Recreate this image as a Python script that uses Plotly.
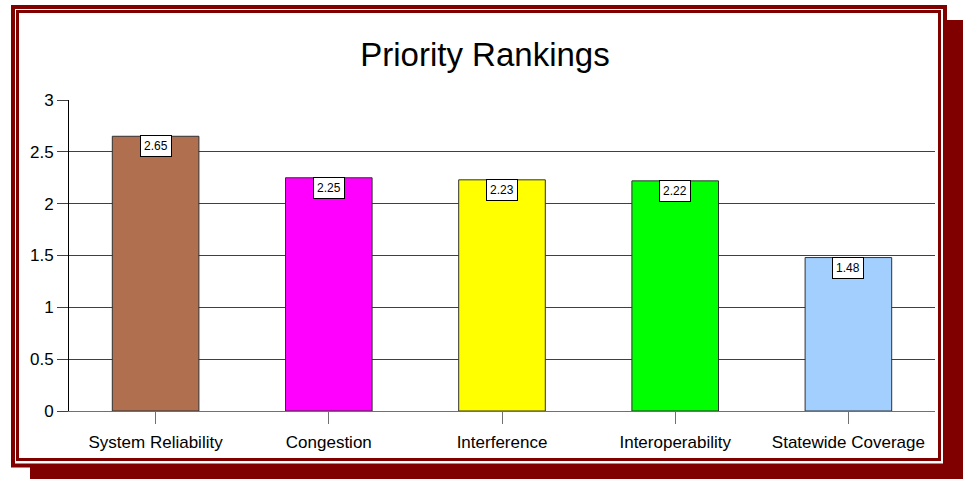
import plotly.graph_objects as go

categories = ["System Reliability", "Congestion", "Interference", "Interoperability", "Statewide Coverage"]
values = [2.65, 2.25, 2.23, 2.22, 1.48]
colors = ["#B07050", "#FF00FF", "#FFFF00", "#00FF00", "#A3CFFF"]
value_labels = ["2.65", "2.25", "2.23", "2.22", "1.48"]
y_ticks = [0, 0.5, 1, 1.5, 2, 2.5, 3]
y_tick_text = ["0", "0.5", "1", "1.5", "2", "2.5", "3"]

W, H = 963, 479
L, R, T, B = 69, 28, 100, 68
PW, PH = W - L - R, H - T - B

def px(x):
    return (x - L) / PW

def py(y):
    return (H - B - y) / PH

DARK_RED = "#800000"
FONT = "Liberation Sans, Arial"

fig = go.Figure()
fig.add_trace(go.Bar(
    x=categories, y=values,
    marker=dict(color=colors, line=dict(color="#303030", width=1)),
    width=0.5, hoverinfo="x+y",
))

for c, v, t in zip(categories, values, value_labels):
    fig.add_annotation(x=c, y=v, text=t, showarrow=False, yanchor="top", yshift=1,
                       font=dict(family=FONT, size=12, color="black"),
                       bgcolor="white", bordercolor="black", borderwidth=1, borderpad=3)

shapes = [
    # drop shadow
    dict(type="rect", xref="paper", yref="paper", x0=px(30), x1=px(963), y0=py(20), y1=py(479),
         fillcolor=DARK_RED, line=dict(width=0), layer="below"),
    # outer frame
    dict(type="rect", xref="paper", yref="paper", x0=px(13), x1=px(945), y0=py(7), y1=py(465.5),
         fillcolor="white", line=dict(color=DARK_RED, width=4), layer="below"),
    # inner frame
    dict(type="rect", xref="paper", yref="paper", x0=px(17.5), x1=px(939.5), y0=py(11.5), y1=py(459.5),
         fillcolor="rgba(0,0,0,0)", line=dict(color=DARK_RED, width=3), layer="below"),
]

fig.update_layout(
    width=W, height=H,
    margin=dict(l=L, r=R, t=T, b=B),
    paper_bgcolor="white", plot_bgcolor="rgba(0,0,0,0)",
    shapes=shapes,
    showlegend=False,
    title=dict(text="Priority Rankings", x=(485) / W, xanchor="center", y=1 - 54 / H, yanchor="middle",
               yref="container", font=dict(family=FONT, size=33, color="black")),
    font=dict(family=FONT, size=17, color="black"),
    bargap=0.5,
)
fig.update_xaxes(showgrid=False, showline=True, linecolor="#707070", linewidth=1,
                 ticks="outside", ticklen=12, tickcolor="#707070", tickfont=dict(size=17),
                 ticklabelstandoff=4, zeroline=False)
fig.update_yaxes(range=[0, 3], tickvals=y_ticks, ticktext=y_tick_text, showgrid=True,
                 gridcolor="#404040", gridwidth=1, showline=True, linecolor="black", linewidth=1,
                 ticks="outside", ticklen=11, tickcolor="#404040", tickfont=dict(size=17),
                 zeroline=False)

fig.write_html("out.html", config={"displayModeBar": False},
               post_script="document.body.style.margin='0';")
